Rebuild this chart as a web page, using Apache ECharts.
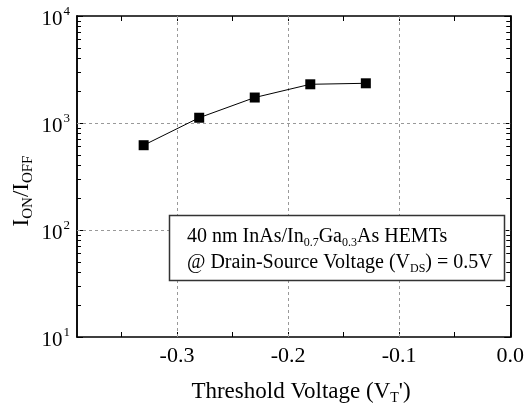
<!DOCTYPE html>
<html>
<head>
<meta charset="utf-8">
<script src="https://cdn.jsdelivr.net/npm/echarts@6/dist/echarts.min.js"></script>
<style>
html,body{margin:0;padding:0;background:#fff;}
#chart{width:527px;height:410px;}
</style>
</head>
<body>
<div id="chart"></div>
<script>
// Threshold voltage (V) and on/off current ratio of the devices
const thresholdVoltage = [-0.33, -0.28, -0.23, -0.18, -0.13];
const onOffRatio = [620, 1120, 1730, 2300, 2350];

// Axis ranges, labelled ticks and minor ticks
const xRange = [-0.39, 0];
const xLabelValues = [-0.3, -0.2, -0.1, 0.0];
const xTickValues = [-0.35, -0.3, -0.25, -0.2, -0.15, -0.1, -0.05, 0];
const xGridValues = [-0.3, -0.2, -0.1];
const yRange = [10, 10000];
const yDecades = [10, 100, 1000, 10000];
const yMinorTicks = [20, 30, 40, 50, 60, 70, 80, 90,
  200, 300, 400, 500, 600, 700, 800, 900,
  2000, 3000, 4000, 5000, 6000, 7000, 8000, 9000];
const yGridValues = [100, 1000];

const FONT = 'Liberation Serif';
const chart = echarts.init(document.getElementById('chart'));

function xAxisDef(position, showLabels) {
  return {
    type: 'value', position: position, min: xRange[0], max: xRange[1],
    axisLine: { show: true, onZero: false, lineStyle: { color: '#000', width: 1.5 } },
    axisTick: { show: true, inside: true, length: 5, customValues: xTickValues, lineStyle: { color: '#000', width: 1 } },
    axisLabel: {
      show: showLabels, customValues: xLabelValues, margin: 8,
      fontFamily: FONT, fontSize: 22, color: '#000',
      formatter: v => v.toFixed(1)
    },
    splitLine: { show: false }
  };
}

function yAxisDef(position, ticks, len, showLabels) {
  return {
    type: 'log', logBase: 10, position: position, min: yRange[0], max: yRange[1],
    axisLine: { show: true, onZero: false, lineStyle: { color: '#000', width: 1.5 } },
    axisTick: { show: true, inside: true, length: len, customValues: ticks, lineStyle: { color: '#000', width: 1 } },
    axisLabel: {
      show: showLabels, customValues: yDecades, margin: 7,
      formatter: v => '{b|10}{s|' + Math.round(Math.log10(v)) + '}',
      rich: {
        b: { fontFamily: FONT, fontSize: 21, color: '#000', padding: [6, 0, 0, 0] },
        s: { fontFamily: FONT, fontSize: 13, color: '#000', padding: [0, 0, 8, 1] }
      }
    },
    splitLine: { show: false }
  };
}

const gridLineStyle = { color: '#999', type: [3, 3], width: 1 };

chart.setOption({
  backgroundColor: '#fff',
  animation: false,
  grid: { left: 77, right: 14, top: 16, bottom: 73 },
  xAxis: [xAxisDef('bottom', true), xAxisDef('top', false)],
  yAxis: [
    yAxisDef('left', yDecades, 6, true),
    yAxisDef('left', yMinorTicks, 4, false),
    yAxisDef('right', yDecades, 6, false),
    yAxisDef('right', yMinorTicks, 4, false)
  ],
  series: [{
    type: 'line',
    xAxisIndex: 0, yAxisIndex: 0,
    data: thresholdVoltage.map((v, i) => [v, onOffRatio[i]]),
    symbol: 'rect', symbolSize: 10,
    itemStyle: { color: '#000' },
    lineStyle: { color: '#000', width: 1 },
    markLine: {
      silent: true, symbol: 'none', label: { show: false },
      lineStyle: gridLineStyle,
      data: xGridValues.map(v => ({ xAxis: v })).concat(yGridValues.map(v => ({ yAxis: v })))
    },
    z: 5
  }],
  graphic: [
    {
      type: 'text', x: 301, y: 392,
      style: {
        text: '{a|Threshold Voltage (V}{t|T}{a|\')}',
        align: 'center', verticalAlign: 'middle',
        rich: {
          a: { fontFamily: FONT, fontSize: 23, color: '#000' },
          t: { fontFamily: FONT, fontSize: 14, color: '#000', padding: [12, 0, 0, 0] }
        }
      }
    },
    {
      type: 'text', x: 22, y: 191, rotation: Math.PI / 2,
      style: {
        text: '{a|I}{t|ON}{a|/I}{t|OFF}',
        align: 'center', verticalAlign: 'middle',
        rich: {
          a: { fontFamily: FONT, fontSize: 23, color: '#000' },
          t: { fontFamily: FONT, fontSize: 15, color: '#000', padding: [12, 0, 0, 0] }
        }
      }
    },
    {
      type: 'rect', z: 10,
      shape: { x: 169.5, y: 215.5, width: 335, height: 65 },
      style: { fill: '#fff', stroke: '#333', lineWidth: 1.5 }
    },
    {
      type: 'text', z: 11, x: 187, y: 237,
      style: {
        text: '{a|40 nm InAs/In}{t|0.7}{a|Ga}{t|0.3}{a|As HEMTs}',
        verticalAlign: 'middle',
        rich: {
          a: { fontFamily: FONT, fontSize: 20, color: '#000' },
          t: { fontFamily: FONT, fontSize: 12, color: '#000', padding: [11, 0, 0, 0] }
        }
      }
    },
    {
      type: 'text', z: 11, x: 187, y: 263,
      style: {
        text: '{a|@ Drain-Source Voltage (V}{t|DS}{a|) = 0.5V}',
        verticalAlign: 'middle',
        rich: {
          a: { fontFamily: FONT, fontSize: 20, color: '#000' },
          t: { fontFamily: FONT, fontSize: 12, color: '#000', padding: [11, 0, 0, 0] }
        }
      }
    }
  ]
});
</script>
</body>
</html>
